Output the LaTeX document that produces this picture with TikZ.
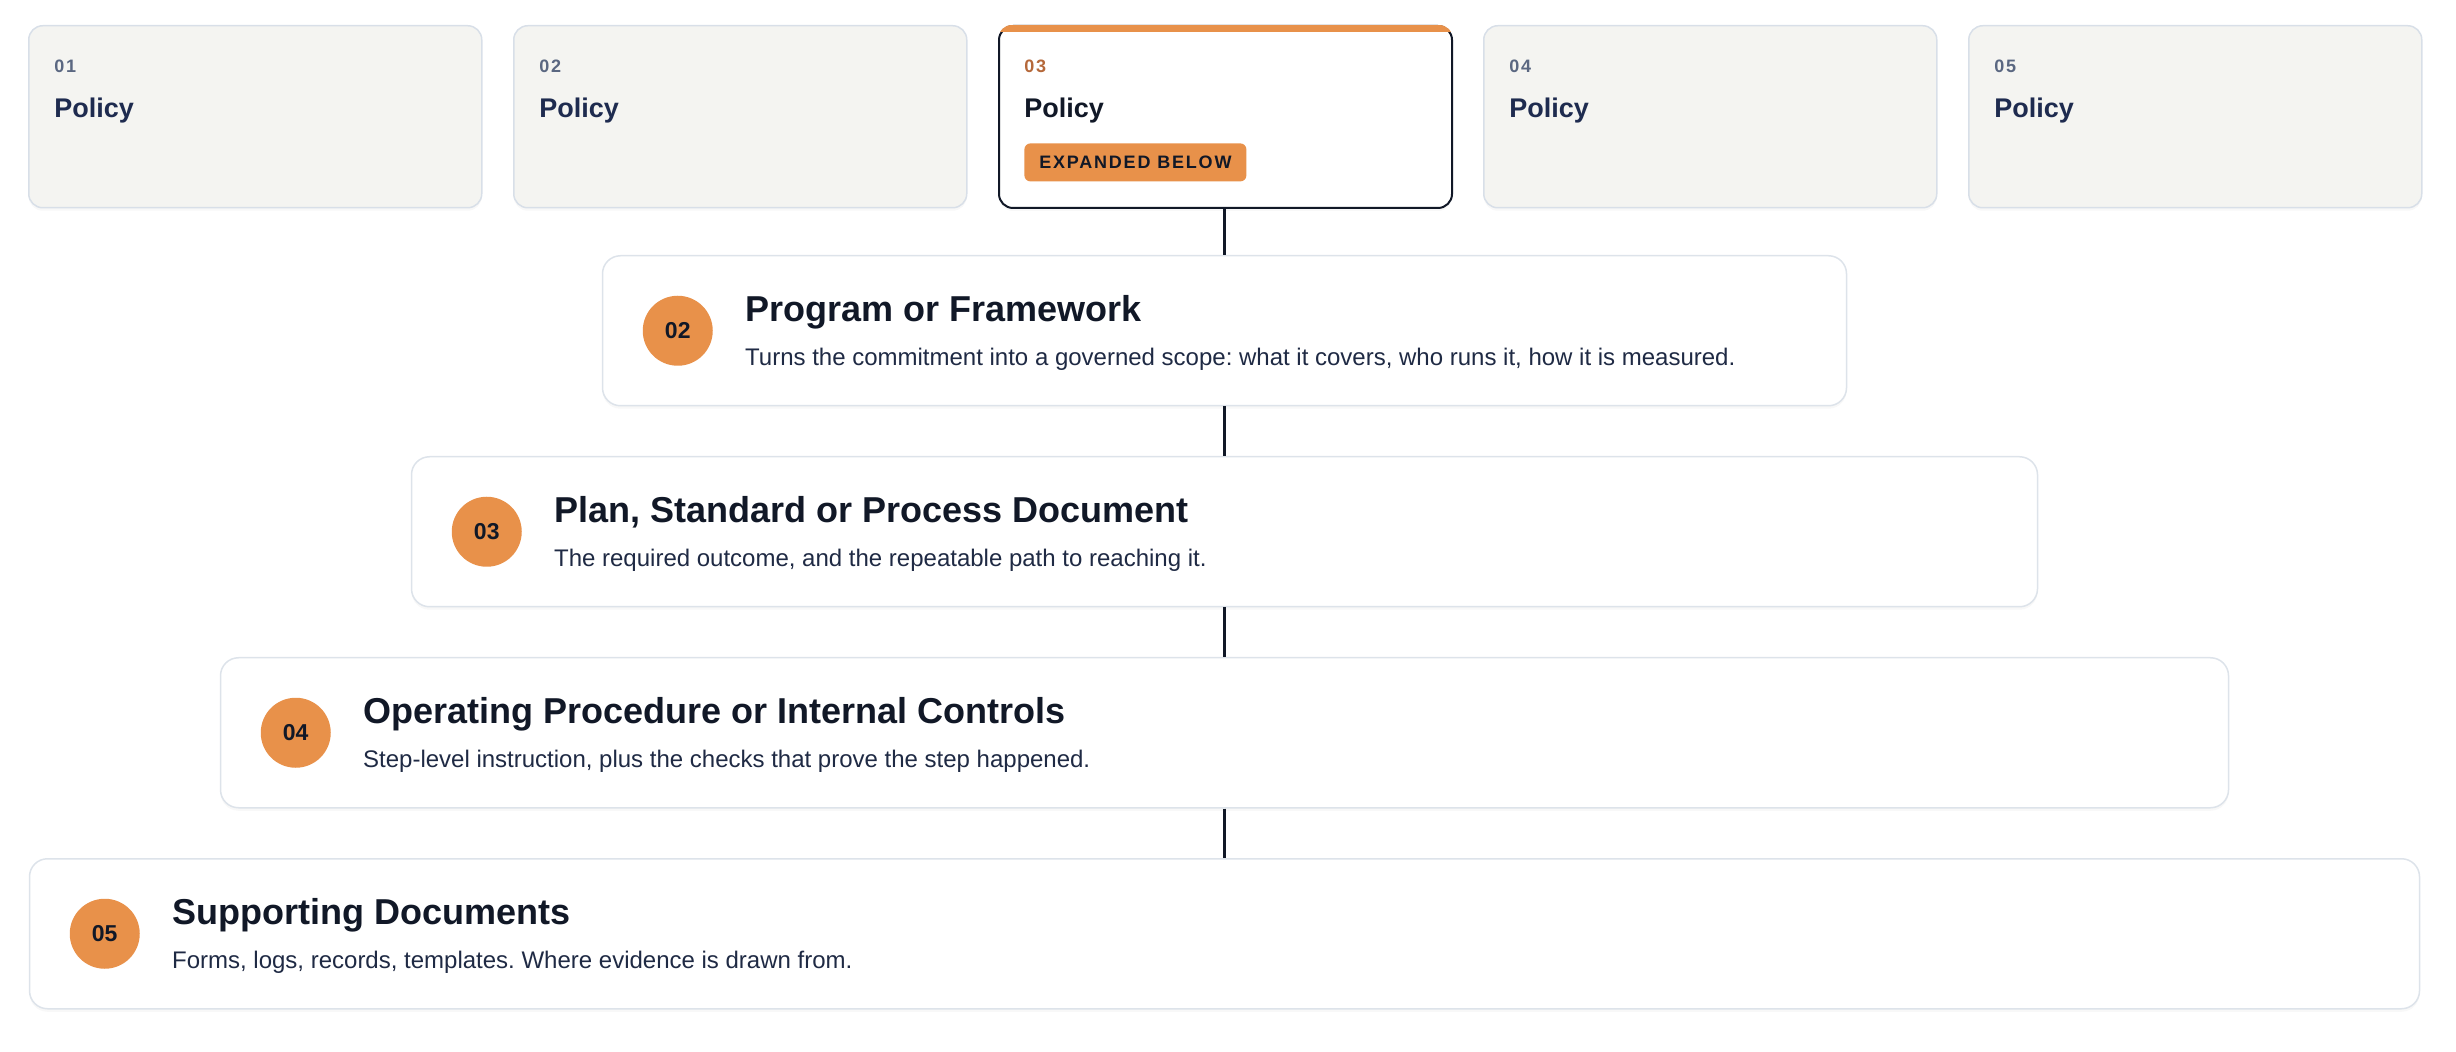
\documentclass[tikz,border=0pt]{standalone}
\usepackage{fontspec}
\setmainfont{Liberation Sans}
\newfontfamily\spacedfont[LetterSpace=10]{Liberation Sans}
\usetikzlibrary{shadows}
\frenchspacing

\definecolor{cardfill}{HTML}{F4F4F1}
\definecolor{cardline}{HTML}{D8DFE8}
\definecolor{stepline}{HTML}{DDE3EA}
\definecolor{navy}{HTML}{1E2B4F}
\definecolor{ink}{HTML}{111827}
\definecolor{numgray}{HTML}{5A6781}
\definecolor{accent}{HTML}{E8914A}
\definecolor{accentdark}{HTML}{B5683A}
\definecolor{desc}{HTML}{1F2A44}

\tikzset{
  card/.style={draw=cardline, fill=cardfill, line width=0.75pt, rounded corners=7pt,
    minimum width=226.5pt, minimum height=91pt, anchor=north west, inner sep=0pt,
    drop shadow={opacity=0.06, shadow xshift=0pt, shadow yshift=-1.5pt}},
  stepbox/.style={draw=stepline, fill=white, line width=0.75pt, rounded corners=9pt,
    minimum height=75pt, anchor=north, inner sep=0pt,
    drop shadow={opacity=0.06, shadow xshift=0pt, shadow yshift=-1.5pt}},
  stepdot/.style={circle, fill=accent, minimum size=35pt, inner sep=0pt,
    font=\bfseries\fontsize{11.5}{13}\selectfont, text=ink},
  cardnum/.style={anchor=base west, inner sep=0pt, font=\spacedfont\bfseries\fontsize{9}{11}\selectfont, text=numgray},
  cardtitle/.style={anchor=base west, inner sep=0pt, font=\bfseries\fontsize{13.5}{16}\selectfont, text=navy},
  steptitle/.style={anchor=base west, inner sep=0pt, font=\bfseries\fontsize{18}{22}\selectfont, text=ink},
  stepdesc/.style={anchor=base west, inner sep=0pt, font=\fontsize{12}{14}\selectfont, text=desc},
  badge/.style={anchor=north west, fill=accent, rounded corners=3pt, minimum width=111pt, minimum height=19pt,
    inner sep=0pt, font=\spacedfont\bfseries\fontsize{9}{11}\selectfont, text=ink},
  link/.style={draw=ink, line width=1.25pt},
}

\begin{document}
\begin{tikzpicture}[x=0.5pt, y=-0.5pt]
\useasboundingbox (0,0) rectangle (2456,1052);

% policy cards
\node[card] (c1) at (28,25) {};
\node[cardnum] (c1num) at (54,73) {01};
\node[cardtitle] (c1title) at (54,118) {Policy};

\node[card] (c2) at (513,25) {};
\node[cardnum] (c2num) at (539,73) {02};
\node[cardtitle] (c2title) at (539,118) {Policy};

\node[card, fill=white, draw=ink, line width=1pt] (c3) at (998,25) {};
\begin{scope}
\clip[rounded corners=7pt] (c3.south west) rectangle (c3.north east);
\fill[accent] (c3.north west) rectangle ([yshift=-3.5pt]c3.north east);
\end{scope}
\node[cardnum, text=accentdark] (c3num) at (1024,73) {03};
\node[cardtitle, text=ink] (c3title) at (1024,118) {Policy};
\node[badge] (c3badge) at (1024,143) {EXPANDED BELOW};

\node[card] (c4) at (1483,25) {};
\node[cardnum] (c4num) at (1509,73) {04};
\node[cardtitle] (c4title) at (1509,118) {Policy};

\node[card] (c5) at (1968,25) {};
\node[cardnum] (c5num) at (1994,73) {05};
\node[cardtitle] (c5title) at (1994,118) {Policy};

% expanded steps
\node[stepbox, minimum width=622pt] (s2) at (1224.5,255) {};
\node[stepdot] (s2dot) at ([xshift=38pt]s2.west) {02};
\node[steptitle] (s2title) at ([xshift=71.5pt, yshift=4.5pt]s2.west) {Program or Framework};
\node[stepdesc] (s2desc) at ([xshift=71.5pt, yshift=-17.5pt]s2.west) {Turns the commitment into a governed scope: what it covers, who runs it, how it is measured.};

\node[stepbox, minimum width=813pt] (s3) at (1224.5,456) {};
\node[stepdot] (s3dot) at ([xshift=38pt]s3.west) {03};
\node[steptitle] (s3title) at ([xshift=71.5pt, yshift=4.5pt]s3.west) {Plan, Standard or Process Document};
\node[stepdesc] (s3desc) at ([xshift=71.5pt, yshift=-17.5pt]s3.west) {The required outcome, and the repeatable path to reaching it.};

\node[stepbox, minimum width=1004pt] (s4) at (1224.5,657) {};
\node[stepdot] (s4dot) at ([xshift=38pt]s4.west) {04};
\node[steptitle] (s4title) at ([xshift=71.5pt, yshift=4.5pt]s4.west) {Operating Procedure or Internal Controls};
\node[stepdesc] (s4desc) at ([xshift=71.5pt, yshift=-17.5pt]s4.west) {Step-level instruction, plus the checks that prove the step happened.};

\node[stepbox, minimum width=1195pt] (s5) at (1224.5,858) {};
\node[stepdot] (s5dot) at ([xshift=38pt]s5.west) {05};
\node[steptitle] (s5title) at ([xshift=71.5pt, yshift=4.5pt]s5.west) {Supporting Documents};
\node[stepdesc] (s5desc) at ([xshift=71.5pt, yshift=-17.5pt]s5.west) {Forms, logs, records, templates. Where evidence is drawn from.};

\draw[link] (s2.north |- c3.south) -- (s2.north);
\draw[link] (s2.south) -- (s3.north);
\draw[link] (s3.south) -- (s4.north);
\draw[link] (s4.south) -- (s5.north);

\end{tikzpicture}
\end{document}
